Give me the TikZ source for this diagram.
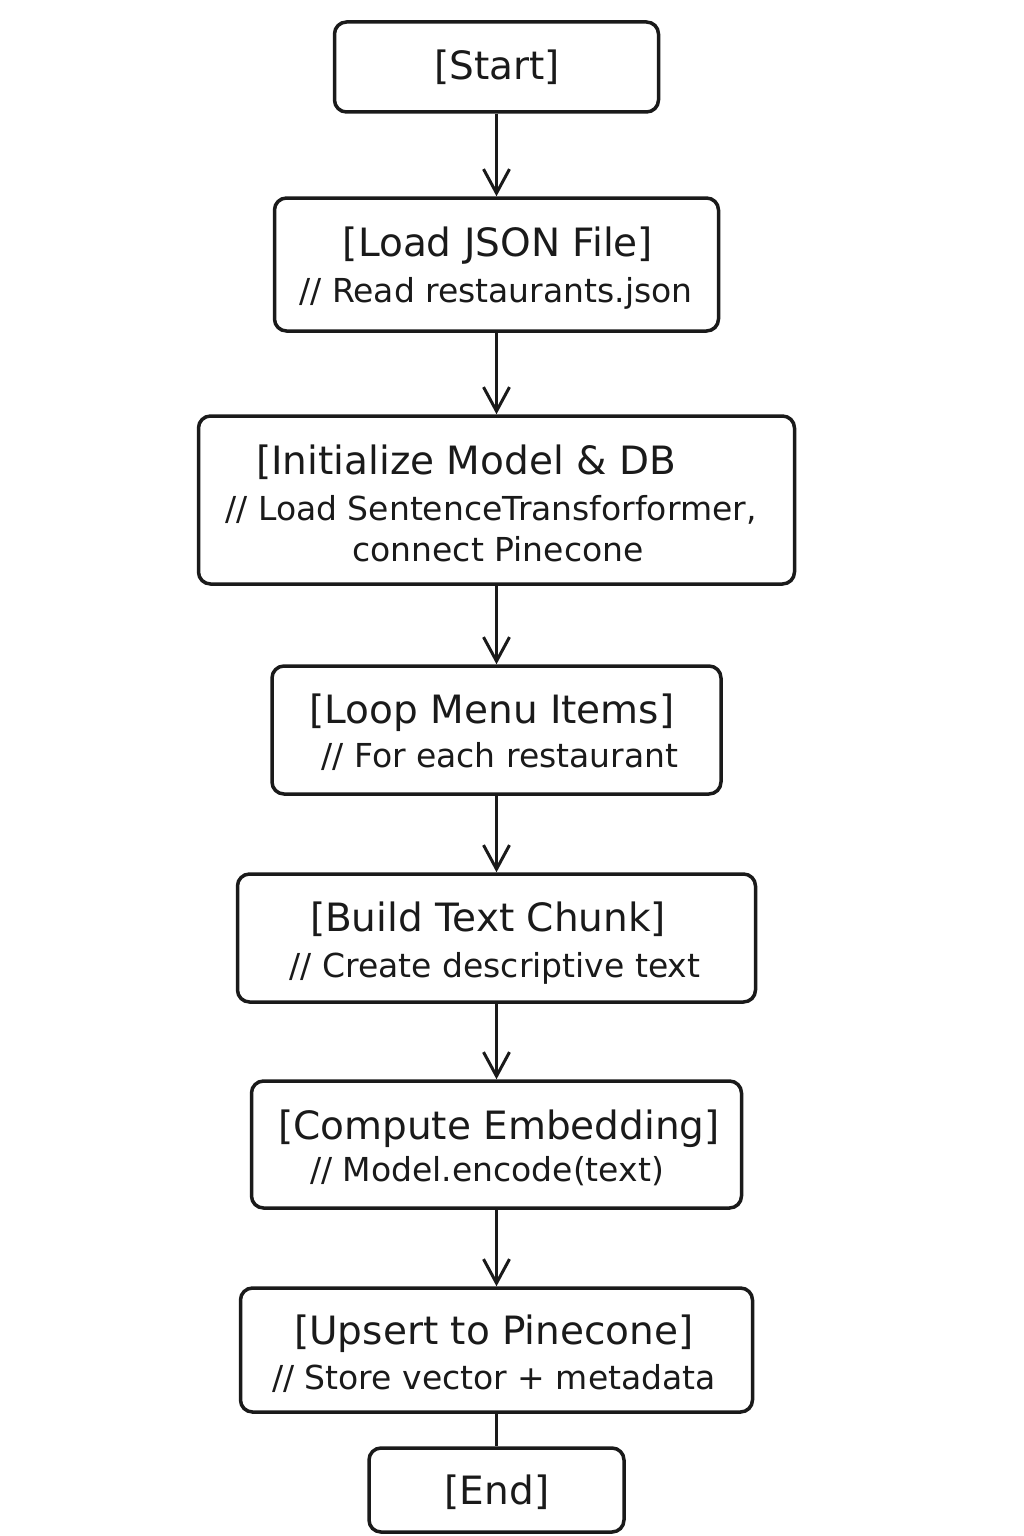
\documentclass[tikz,border=0pt]{standalone}
\usepackage{fontspec}
\setmainfont{DejaVu Sans}
\usetikzlibrary{arrows.meta}
\definecolor{ink}{HTML}{1A1A1A}
\tikzset{
  box/.style={draw=ink, line width=3.5pt, rounded corners=12pt, minimum width=#1},
  ttl/.style={anchor=base, inner sep=0pt, text=ink, font=\fontsize{39}{44}\selectfont},
  sub/.style={anchor=base, inner sep=0pt, text=ink, font=\fontsize{33}{38}\selectfont},
  flow/.style={draw=ink, line width=3pt, -{Straight Barb[length=24pt, width=26pt, line width=3pt]}},
  plain/.style={draw=ink, line width=3pt}
}
\begin{document}
\begin{tikzpicture}[x=1pt, y=-1pt]
\useasboundingbox (0,0) rectangle (1024,1536);
\node[box=324pt, minimum height=90pt] (start) at (496.5,67) {};
\node[box=444pt, minimum height=133pt] (load) at (496.5,264.5) {};
\node[box=596pt, minimum height=168pt] (init) at (496.5,500) {};
\node[box=449pt, minimum height=128pt] (loop) at (496.5,730) {};
\node[box=518pt, minimum height=128pt] (build) at (496.5,938) {};
\node[box=490pt, minimum height=127pt] (comp) at (496.5,1144.5) {};
\node[box=512pt, minimum height=124pt] (ups) at (496.5,1350) {};
\node[box=255pt, minimum height=84pt] (end) at (496.5,1490) {};

\node[ttl] (t1) at (497,80) {[Start]};
\node[ttl] (t2) at (498,256) {[Load JSON File]};
\node[sub] (s2) at (496,302) {// Read restaurants.json};
\node[ttl] (t3) at (466,474) {[Initialize Model \& DB};
\node[sub] (s3) at (491,520) {// Load SentenceTransforformer,};
\node[sub] (s3b) at (498,561) {connect Pinecone};
\node[ttl] (t4) at (492,723) {[Loop Menu Items]};
\node[sub] (s4) at (500,767) {// For each restaurant};
\node[ttl] (t5) at (488,931) {[Build Text Chunk]};
\node[sub] (s5) at (495,977) {// Create descriptive text};
\node[ttl] (t6) at (499,1139) {[Compute Embedding]};
\node[sub] (s6) at (487,1181) {// Model.encode(text)};
\node[ttl] (t7) at (494,1344) {[Upsert to Pinecone]};
\node[sub] (s7) at (494,1389) {// Store vector + metadata};
\node[ttl] (t8) at (497,1504) {[End]};

\draw[flow] (start.south) -- (load.north);
\draw[flow] (load.south) -- (init.north);
\draw[flow] (init.south) -- (loop.north);
\draw[flow] (loop.south) -- (build.north);
\draw[flow] (build.south) -- (comp.north);
\draw[flow] (comp.south) -- (ups.north);
\draw[plain] (ups.south) -- (end.north);
\end{tikzpicture}
\end{document}
